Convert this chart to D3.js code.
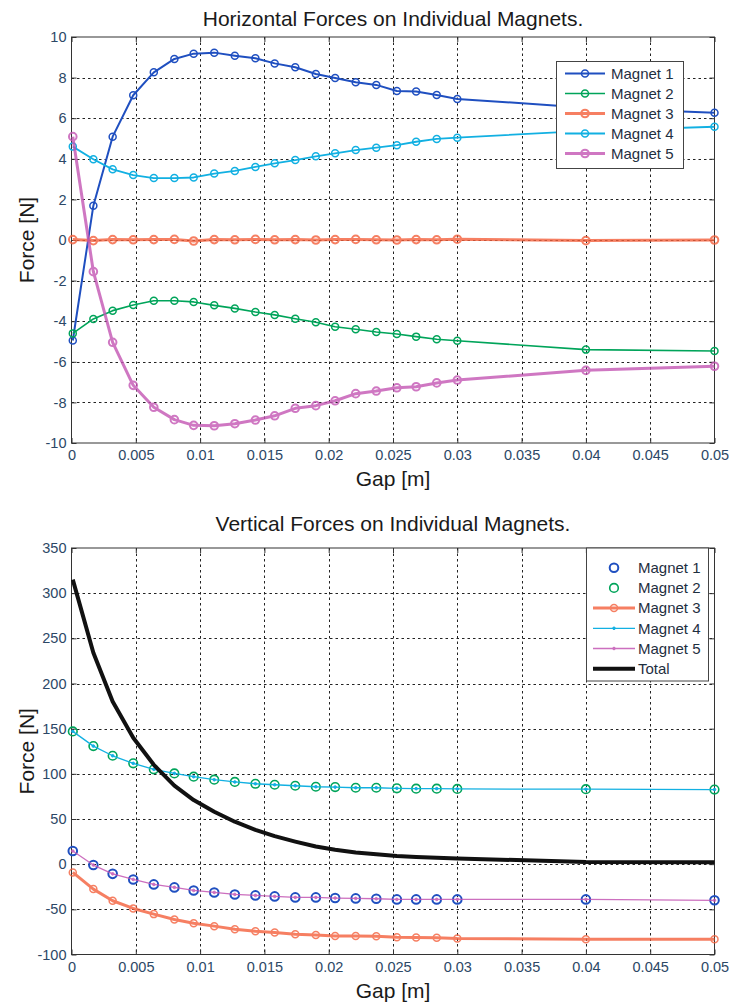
<!DOCTYPE html>
<html>
<head>
<meta charset="utf-8">
<script src="https://cdn.jsdelivr.net/npm/d3@7"></script>
<style>
body { margin: 0; background: #fff; }
text { font-family: "Liberation Sans", Arial, sans-serif; }
</style>
</head>
<body>
<svg id="chart" width="729" height="1003"></svg>
<script>
// gap values [m], the same for every series of both plots
const gap = [0.0001, 0.0017, 0.0032, 0.0048, 0.0064, 0.0080, 0.0095, 0.0111, 0.0127, 0.0143, 0.0158,
             0.0174, 0.0190, 0.0205, 0.0221, 0.0237, 0.0253, 0.0268, 0.0284, 0.0300, 0.04, 0.05];

// horizontal forces [N]
const hMagnet1 = [-4.95, 1.69, 5.09, 7.13, 8.26, 8.92, 9.18, 9.23, 9.08, 8.95, 8.70,
                  8.51, 8.18, 7.98, 7.77, 7.64, 7.34, 7.31, 7.14, 6.95, 6.52, 6.27];
const hMagnet2 = [-4.60, -3.89, -3.48, -3.20, -2.99, -2.99, -3.05, -3.22, -3.37, -3.55, -3.69,
                  -3.88, -4.05, -4.27, -4.40, -4.53, -4.63, -4.76, -4.89, -4.96, -5.40, -5.47];
const hMagnet3 = [0.02, -0.03, 0.02, 0.01, 0.02, 0.03, -0.05, 0.02, 0.01, 0.03, 0.01,
                  0.02, 0.0, 0.02, 0.03, 0.01, 0.0, 0.02, 0.01, 0.04, -0.03, 0.0];
const hMagnet4 = [4.60, 3.98, 3.48, 3.20, 3.05, 3.05, 3.08, 3.27, 3.40, 3.60, 3.78,
                  3.94, 4.12, 4.27, 4.43, 4.55, 4.67, 4.84, 4.98, 5.04, 5.38, 5.58];
const hMagnet5 = [5.09, -1.56, -5.04, -7.16, -8.24, -8.85, -9.13, -9.15, -9.05, -8.87, -8.66,
                  -8.29, -8.16, -7.92, -7.57, -7.44, -7.28, -7.23, -7.04, -6.90, -6.42, -6.22];

// vertical forces [N]
const vMagnet1 = [14.5, -1.0, -10.7, -16.9, -22.4, -25.7, -29.1, -31.3, -33.5, -34.6, -35.7,
                  -36.8, -36.8, -37.5, -37.9, -38.3, -39.0, -39.0, -39.0, -39.0, -39.0, -40.0];
const vMagnet2 = [147, 130.7, 120, 111.6, 105, 100.5, 96.8, 93.5, 91, 89, 87.9,
                  86.8, 85.7, 85.3, 84.6, 84.6, 84.0, 83.6, 83.6, 83.3, 83.0, 82.6];
const vMagnet3 = [-9.1, -27.6, -40.5, -49, -55.3, -61.2, -65.3, -68.6, -72, -74.2, -75.6,
                  -77.5, -78.3, -79.4, -79.4, -79.7, -80.8, -81.2, -81.5, -82.4, -83.0, -83.0];
const vMagnet4 = [147, 130.7, 120, 111.6, 105, 100.5, 96.8, 93.5, 91, 89, 87.9,
                  86.8, 85.7, 85.3, 84.6, 84.6, 84.0, 83.6, 83.6, 83.3, 83.0, 82.6];
const vMagnet5 = [14.5, -1.0, -10.7, -16.9, -22.4, -25.7, -29.1, -31.3, -33.5, -34.6, -35.7,
                  -36.8, -36.8, -37.5, -37.9, -38.3, -39.0, -39.0, -39.0, -39.0, -39.0, -40.0];
const vTotal   = [315, 234, 180, 140, 110, 87, 71, 58, 47, 38, 31,
                  25, 19.5, 16, 13, 11, 9, 8, 7, 6.3, 2.5, 2.0];

// ticks
const xTicks = [0, 0.005, 0.01, 0.015, 0.02, 0.025, 0.03, 0.035, 0.04, 0.045, 0.05];
const xTickLabels = ['0', '0.005', '0.01', '0.015', '0.02', '0.025', '0.03', '0.035', '0.04', '0.045', '0.05'];
const hYTicks = [-10, -8, -6, -4, -2, 0, 2, 4, 6, 8, 10];
const vYTicks = [-100, -50, 0, 50, 100, 150, 200, 250, 300, 350];

class LineChart {
constructor(config, series) {
    this.config = config;
    this.series = series;
    this.init();
}

init() {
    let self = this;
    const c = self.config;
    self.g = d3.select('#chart').append('g');
    self.xscale = d3.scaleLinear().domain([0, 0.05]).range([c.left, c.right]);
    self.yscale = d3.scaleLinear().domain(c.ydomain).range([c.bottom, c.top]);

    // grid
    const grid = self.g.append('g')
        .attr('stroke', '#222').attr('stroke-width', 1).attr('stroke-dasharray', '2.5,3');
    grid.selectAll('.gx').data(xTicks.slice(1, -1)).join('line')
        .attr('x1', d => Math.round(self.xscale(d)) + 0.5).attr('x2', d => Math.round(self.xscale(d)) + 0.5)
        .attr('y1', c.top).attr('y2', c.bottom);
    grid.selectAll('.gy').data(c.yticks.slice(1, -1)).join('line')
        .attr('class', 'gy')
        .attr('x1', c.left).attr('x2', c.right)
        .attr('y1', d => Math.round(self.yscale(d)) + 0.5).attr('y2', d => Math.round(self.yscale(d)) + 0.5);

    // axes, ticks pointing inward
    const tickColor = '#2c4866';
    const xaxis = d3.axisBottom(self.xscale).tickValues(xTicks)
        .tickFormat((d, i) => xTickLabels[i]).tickSizeInner(-5).tickSizeOuter(0).tickPadding(7);
    const xg = self.g.append('g').attr('transform', `translate(0,${c.bottom})`).call(xaxis);
    const yaxis = d3.axisLeft(self.yscale).tickValues(c.yticks)
        .tickFormat(d => String(d)).tickSizeInner(-5).tickSizeOuter(0).tickPadding(5);
    const yg = self.g.append('g').attr('transform', `translate(${c.left},0)`).call(yaxis);
    const xt = self.g.append('g').attr('transform', `translate(0,${c.top})`)
        .call(d3.axisTop(self.xscale).tickValues(xTicks).tickFormat('').tickSizeInner(-5).tickSizeOuter(0));
    const yr = self.g.append('g').attr('transform', `translate(${c.right},0)`)
        .call(d3.axisRight(self.yscale).tickValues(c.yticks).tickFormat('').tickSizeInner(-5).tickSizeOuter(0));
    [xg, yg, xt, yr].forEach(a => {
        a.select('.domain').remove();
        a.selectAll('line').attr('stroke', '#333');
        a.selectAll('text').attr('fill', tickColor).style('font-size', '14.5px')
            .style('font-family', '"Liberation Sans", Arial, sans-serif');
    });

    self.g.append('rect')
        .attr('x', c.left).attr('y', c.top)
        .attr('width', c.right - c.left).attr('height', c.bottom - c.top)
        .attr('fill', 'none').attr('stroke', '#333').attr('stroke-width', 1);

    // titles and labels
    self.g.append('text')
        .attr('x', (c.left + c.right) / 2).attr('y', c.titleY)
        .attr('text-anchor', 'middle').style('font-size', '21px').attr('fill', '#1a1a1a')
        .text(c.title);
    self.g.append('text')
        .attr('x', (c.left + c.right) / 2).attr('y', c.xlabelY)
        .attr('text-anchor', 'middle').style('font-size', '21px').attr('fill', '#1a1a1a')
        .text('Gap [m]');
    self.g.append('text')
        .attr('transform', `translate(34,${(c.top + c.bottom) / 2}) rotate(-90)`)
        .attr('text-anchor', 'middle').style('font-size', '21px').attr('fill', '#1a1a1a')
        .text('Force [N]');
}

update() {
    let self = this;
    const line = d3.line()
        .x((d, i) => self.xscale(gap[i]))
        .y(d => self.yscale(d));
    self.series.forEach(s => {
        const sg = self.g.append('g').attr('opacity', s.opacity || 1);
        if (s.width > 0) {
            sg.append('path')
                .attr('d', line(s.values))
                .attr('fill', 'none')
                .attr('stroke', s.color)
                .attr('stroke-width', s.width)
                .attr('stroke-linejoin', 'round');
        }
        if (s.r > 0) {
            sg.selectAll('circle').data(s.values).join('circle')
                .attr('cx', (d, i) => self.xscale(gap[i]))
                .attr('cy', d => self.yscale(d))
                .attr('r', s.r)
                .attr('fill', s.dot ? s.color : 'none')
                .attr('stroke', s.color)
                .attr('stroke-width', s.mw);
        }
    });
    self.render();
}

render() {
    let self = this;
    const L = self.config.legend;
    const lg = self.g.append('g');
    lg.append('rect')
        .attr('x', L.x).attr('y', L.y).attr('width', L.w).attr('height', L.h)
        .attr('fill', '#fff').attr('stroke', '#444').attr('stroke-width', 1);
    self.series.forEach((s, i) => {
        const y = L.y0 + i * L.step;
        const eg = lg.append('g').attr('opacity', s.opacity || 1);
        if (s.width > 0) {
            eg.append('line')
                .attr('x1', L.lx1).attr('x2', L.lx2).attr('y1', y).attr('y2', y)
                .attr('stroke', s.color).attr('stroke-width', s.width);
        }
        if (s.r > 0) {
            eg.append('circle')
                .attr('cx', (L.lx1 + L.lx2) / 2).attr('cy', y).attr('r', s.r)
                .attr('fill', s.dot ? s.color : 'none')
                .attr('stroke', s.color).attr('stroke-width', s.mw);
        }
        lg.append('text')
            .attr('x', L.tx).attr('y', y).attr('dy', '0.35em')
            .style('font-size', '15px').attr('fill', '#1f2f3f')
            .text(s.name);
    });
}
}

const hChart = new LineChart({
    left: 71.5, right: 714.5, top: 37, bottom: 443,
    ydomain: [-10, 10], yticks: hYTicks,
    title: 'Horizontal Forces on Individual Magnets.', titleY: 26, xlabelY: 486,
    legend: {x: 556.5, y: 61.5, w: 127, h: 107, y0: 73.5, step: 20, lx1: 565, lx2: 605, tx: 611}
}, [
    {name: 'Magnet 1', values: hMagnet1, color: '#1f4fc0', width: 2, r: 3.5, mw: 1.5},
    {name: 'Magnet 2', values: hMagnet2, color: '#00a45a', width: 1.6, r: 3.5, mw: 1.5},
    {name: 'Magnet 3', values: hMagnet3, color: '#f4603c', width: 3, r: 3.8, mw: 2, opacity: 0.8},
    {name: 'Magnet 4', values: hMagnet4, color: '#12b0e2', width: 1.8, r: 3.5, mw: 1.5},
    {name: 'Magnet 5', values: hMagnet5, color: '#c456b4', width: 3, r: 3.8, mw: 2, opacity: 0.8}
]);
hChart.update();

const vChart = new LineChart({
    left: 71.5, right: 714.5, top: 548, bottom: 954.5,
    ydomain: [-100, 350], yticks: vYTicks,
    title: 'Vertical Forces on Individual Magnets.', titleY: 531, xlabelY: 998,
    legend: {x: 586.5, y: 548, w: 122, h: 133, y0: 567.7, step: 20.2, lx1: 593, lx2: 635, tx: 638}
}, [
    {name: 'Magnet 1', values: vMagnet1, color: '#1f4fc0', width: 0, r: 4.3, mw: 2},
    {name: 'Magnet 2', values: vMagnet2, color: '#00a45a', width: 0, r: 4.3, mw: 1.6},
    {name: 'Magnet 3', values: vMagnet3, color: '#f4603c', width: 3, r: 3.5, mw: 1.5, opacity: 0.8},
    {name: 'Magnet 4', values: vMagnet4, color: '#12b0e2', width: 1.3, r: 1.3, mw: 1, dot: true},
    {name: 'Magnet 5', values: vMagnet5, color: '#c456b4', width: 1.3, r: 1.3, mw: 1, dot: true, opacity: 0.85},
    {name: 'Total', values: vTotal, color: '#111', width: 4, r: 0}
]);
vChart.update();
</script>
</body>
</html>
